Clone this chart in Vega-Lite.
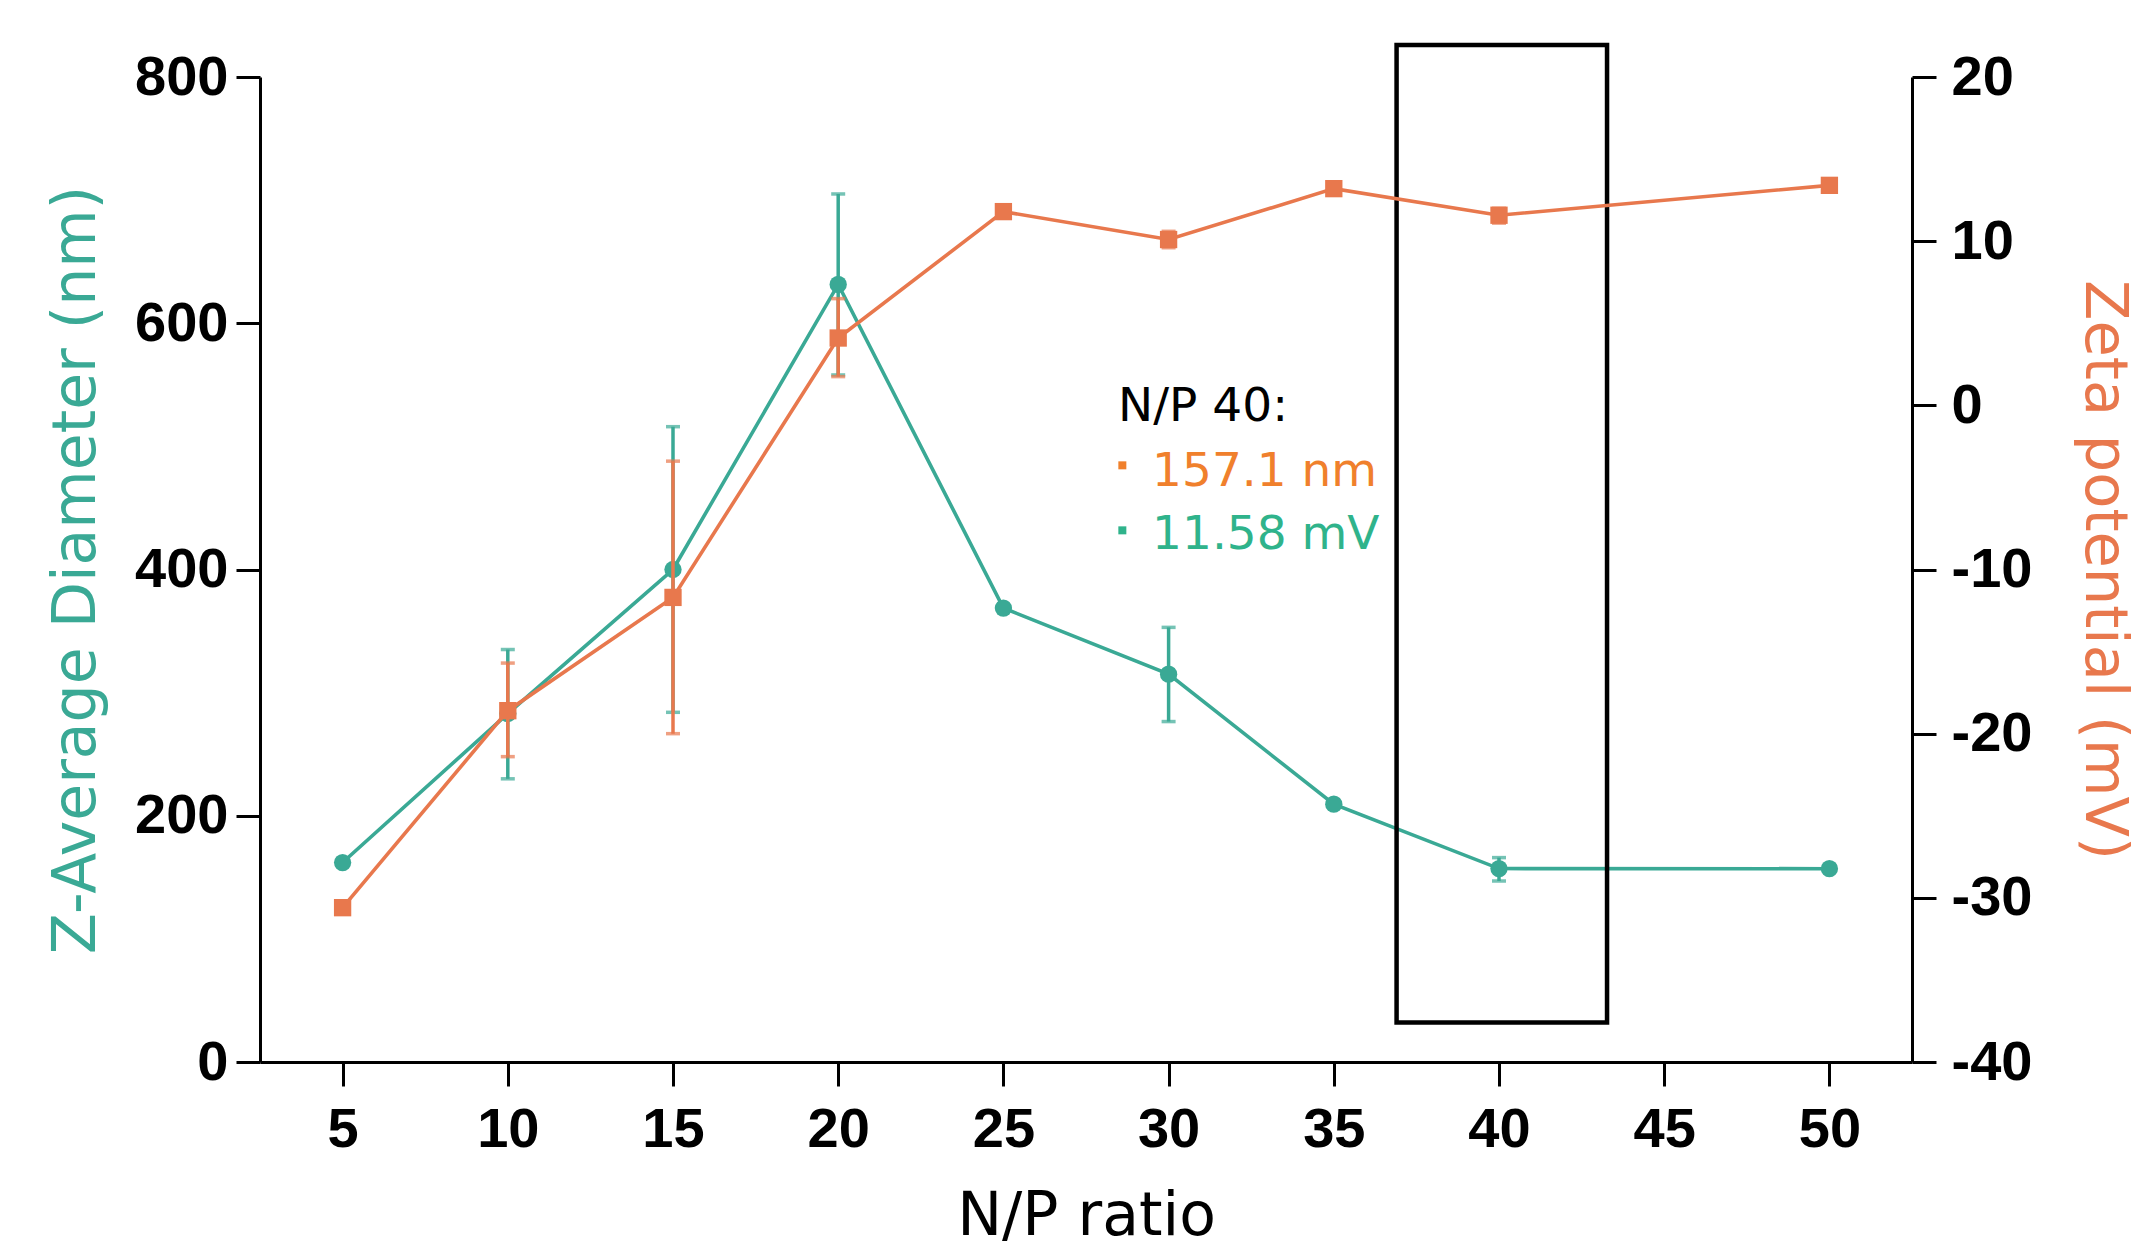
{
  "$schema": "https://vega.github.io/schema/vega-lite/v6.json",
  "width": 1652,
  "height": 985,
  "autosize": {"type": "none"},
  "padding": {"left": 260, "top": 77, "right": 239, "bottom": 189},
  "background": "white",
  "config": {
    "view": {"stroke": null},
    "axis": {
      "grid": false,
      "domainColor": "black",
      "domainWidth": 3,
      "tickColor": "black",
      "tickWidth": 3,
      "tickSize": 24,
      "labelFont": "Liberation Sans",
      "labelFontWeight": "bold",
      "labelFontSize": 56,
      "labelColor": "black",
      "titleFont": "DejaVu Sans",
      "titleFontWeight": "normal",
      "titleFontSize": 60
    }
  },
  "datasets": {
    "pts": [
      {"np": 5, "d": 162, "z": -30.6},
      {"np": 10, "d": 283, "dlo": 230, "dhi": 335, "z": -18.6, "zlo": -21.4, "zhi": -15.7},
      {"np": 15, "d": 400, "dlo": 284, "dhi": 516, "z": -11.7, "zlo": -20.0, "zhi": -3.4},
      {"np": 20, "d": 631.5, "dlo": 558, "dhi": 705, "z": 4.1, "zlo": 1.75, "zhi": 6.5},
      {"np": 25, "d": 368.7, "z": 11.8},
      {"np": 30, "d": 315, "dlo": 276.5, "dhi": 353, "z": 10.1, "zlo": 9.6, "zhi": 10.6},
      {"np": 35, "d": 209.4, "z": 13.2},
      {"np": 40, "d": 157.1, "dlo": 147, "dhi": 166, "z": 11.58, "zlo": 11.1, "zhi": 12.0},
      {"np": 50, "d": 157, "z": 13.4}
    ],
    "notes": [
      {"np": 28.47, "d": 521, "kind": "head", "t": "N/P 40:"},
      {"np": 29.5, "d": 468, "kind": "size", "t": "157.1 nm"},
      {"np": 29.5, "d": 417, "kind": "zeta", "t": "11.58 mV"}
    ],
    "bullets": [
      {"np": 28.6, "d": 484.6, "kind": "size"},
      {"np": 28.6, "d": 431.8, "kind": "zeta"}
    ],
    "box": [
      {"np": 36.9, "np2": 43.27, "d": 32, "d2": 826}
    ]
  },
  "layer": [
    {
      "layer": [
        {
          "data": {"name": "pts"},
          "mark": {"type": "line", "color": "#3aa995", "strokeWidth": 3.6},
          "encoding": {
            "x": {"field": "np", "type": "quantitative", "title": "N/P ratio",
              "scale": {"domain": [2.5, 52.5], "nice": false, "zero": false},
              "axis": {"values": [5, 10, 15, 20, 25, 30, 35, 40, 45, 50], "labelPadding": 16, "titlePadding": 30, "titleColor": "black"}},
            "y": {"field": "d", "type": "quantitative", "title": "Z-Average Diameter (nm)",
              "scale": {"domain": [0, 800], "nice": false},
              "axis": {"orient": "left", "values": [0, 200, 400, 600, 800], "labelPadding": 8, "titlePadding": 27, "titleColor": "#3aa995"}}
          }
        },
        {
          "data": {"name": "pts"},
          "transform": [{"filter": "isValid(datum.dlo)"}],
          "mark": {"type": "errorbar", "color": "#3aa995", "thickness": 3.5, "ticks": {"size": 14, "thickness": 3.5, "color": "#3aa995"}, "rule": {"strokeWidth": 3.5}},
          "encoding": {
            "x": {"field": "np", "type": "quantitative", "title": "N/P ratio"},
            "y": {"field": "dlo", "type": "quantitative", "title": "Z-Average Diameter (nm)"},
            "y2": {"field": "dhi"}
          }
        },
        {
          "data": {"name": "pts"},
          "mark": {"type": "point", "shape": "circle", "filled": true, "opacity": 1, "size": 300, "color": "#3aa995"},
          "encoding": {
            "x": {"field": "np", "type": "quantitative", "title": "N/P ratio"},
            "y": {"field": "d", "type": "quantitative", "title": "Z-Average Diameter (nm)"}
          }
        },
        {
          "data": {"name": "box"},
          "mark": {"type": "rect", "fill": null, "fillOpacity": 0, "stroke": "black", "strokeWidth": 4.5},
          "encoding": {
            "x": {"field": "np", "type": "quantitative", "title": "N/P ratio"},
            "x2": {"field": "np2"},
            "y": {"field": "d", "type": "quantitative", "title": "Z-Average Diameter (nm)"},
            "y2": {"field": "d2"}
          }
        },
        {
          "data": {"name": "notes"},
          "mark": {"type": "text", "align": "left", "baseline": "alphabetic", "font": "DejaVu Sans", "fontSize": 47},
          "encoding": {
            "x": {"field": "np", "type": "quantitative", "title": "N/P ratio"},
            "y": {"field": "d", "type": "quantitative", "title": "Z-Average Diameter (nm)"},
            "text": {"field": "t"},
            "color": {"field": "kind", "type": "nominal", "legend": null,
              "scale": {"domain": ["head", "size", "zeta"], "range": ["#000000", "#f0802c", "#2fb38b"]}}
          }
        },
        {
          "data": {"name": "bullets"},
          "mark": {"type": "point", "shape": "square", "filled": true, "opacity": 1, "size": 64},
          "encoding": {
            "x": {"field": "np", "type": "quantitative", "title": "N/P ratio"},
            "y": {"field": "d", "type": "quantitative", "title": "Z-Average Diameter (nm)"},
            "color": {"field": "kind", "type": "nominal", "legend": null,
              "scale": {"domain": ["head", "size", "zeta"], "range": ["#000000", "#f0802c", "#2fb38b"]}}
          }
        }
      ]
    },
    {
      "layer": [
        {
          "data": {"name": "pts"},
          "mark": {"type": "line", "color": "#e8784d", "strokeWidth": 3.6},
          "encoding": {
            "x": {"field": "np", "type": "quantitative", "title": "N/P ratio"},
            "y": {"field": "z", "type": "quantitative", "title": "Zeta potential (mV)",
              "scale": {"domain": [-40, 20], "nice": false, "zero": false},
              "axis": {"orient": "right", "values": [-40, -30, -20, -10, 0, 10, 20], "labelExpr": "'' + datum.value", "labelPadding": 15, "titlePadding": 42, "titleFontSize": 59, "titleColor": "#e8784d"}}
          }
        },
        {
          "data": {"name": "pts"},
          "transform": [{"filter": "isValid(datum.zlo)"}],
          "mark": {"type": "errorbar", "color": "#e8784d", "thickness": 3.5, "ticks": {"size": 14, "thickness": 3.5, "color": "#e8784d"}, "rule": {"strokeWidth": 3.5}},
          "encoding": {
            "x": {"field": "np", "type": "quantitative", "title": "N/P ratio"},
            "y": {"field": "zlo", "type": "quantitative", "title": "Zeta potential (mV)"},
            "y2": {"field": "zhi"}
          }
        },
        {
          "data": {"name": "pts"},
          "mark": {"type": "point", "shape": "square", "filled": true, "opacity": 1, "size": 300, "color": "#e8784d"},
          "encoding": {
            "x": {"field": "np", "type": "quantitative", "title": "N/P ratio"},
            "y": {"field": "z", "type": "quantitative", "title": "Zeta potential (mV)"}
          }
        }
      ]
    }
  ],
  "resolve": {"scale": {"y": "independent"}}
}
